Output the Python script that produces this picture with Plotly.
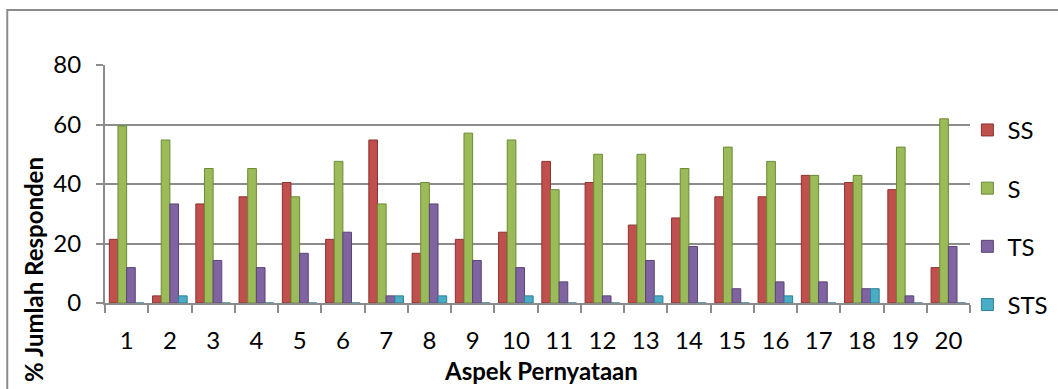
import plotly.graph_objects as go

# Survey responses per statement aspect (% of respondents)
aspek = [str(i) for i in range(1, 21)]
ss = [21.4, 2.4, 33.3, 35.7, 40.5, 21.4, 54.8, 16.7, 21.4, 23.8,
      47.6, 40.5, 26.2, 28.6, 35.7, 35.7, 42.9, 40.5, 38.1, 11.9]
s = [59.5, 54.8, 45.2, 45.2, 35.7, 47.6, 33.3, 40.5, 57.1, 54.8,
     38.1, 50.0, 50.0, 45.2, 52.4, 47.6, 42.9, 42.9, 52.4, 61.9]
ts = [11.9, 33.3, 14.3, 11.9, 16.7, 23.8, 2.4, 33.3, 14.3, 11.9,
      7.1, 2.4, 14.3, 19.0, 4.8, 7.1, 7.1, 4.8, 2.4, 19.0]
sts = [0, 2.4, 0, 0, 0, 0, 2.4, 2.4, 0, 2.4,
       0, 0, 2.4, 0, 0, 2.4, 0, 4.8, 0, 0]
y_ticks = [0, 20, 40, 60, 80]

series = [
    ("SS", ss, "#C0504D", "#8E3330"),
    ("S", s, "#9BBB59", "#6B8A36"),
    ("TS", ts, "#8064A2", "#5A4478"),
    ("STS", sts, "#4BACC6", "#2E8198"),
]

FONT = "Lato, Open Sans, sans-serif"
GRID = "#8C8C8C"

fig = go.Figure()
for i, (name, vals, col, edge) in enumerate(series):
    fig.add_trace(go.Bar(
        x=aspek, y=vals, name=name,
        marker=dict(color=col, line=dict(color=edge, width=1)),
        legendgroup=name,
    ))

fig.update_layout(
    width=1058, height=389,
    margin=dict(l=105, r=88, t=65, b=86, autoexpand=False),
    paper_bgcolor="white", plot_bgcolor="white",
    barmode="group", bargap=0.2, bargroupgap=0.0,
    font=dict(family=FONT, size=24, color="#000000"),
    showlegend=True,
    legend=dict(
        x=0.997, y=0.82, xanchor="left", yanchor="top",
        font=dict(family=FONT, size=24, color="#000000"),
        tracegroupgap=24, itemwidth=30,
        bgcolor="rgba(0,0,0,0)",
    ),
    xaxis=dict(
        type="category", tickson="boundaries",
        ticks="outside", ticklen=8, tickcolor=GRID, tickwidth=2,
        showline=True, linecolor=GRID, linewidth=2,
        showgrid=False,
        tickfont=dict(family=FONT, size=24),
        ticklabelstandoff=15,
    ),
    yaxis=dict(
        range=[0, 80], tickvals=y_ticks,
        ticks="outside", ticklen=7, tickcolor=GRID, tickwidth=2,
        showline=True, linecolor=GRID, linewidth=2,
        showgrid=True, gridcolor=GRID, gridwidth=2,
        zeroline=False,
        tickfont=dict(family=FONT, size=24),
        ticklabelstandoff=10,
    ),
    annotations=[
        dict(text="<b>Aspek Pernyataan</b>", xref="paper", yref="paper",
             x=0.504, y=-0.285, xanchor="center", yanchor="middle",
             showarrow=False, font=dict(family=FONT, size=24)),
        dict(text="<b>% Jumlah Responden</b>", xref="paper", yref="paper",
             x=-0.083, y=0.14, xanchor="center", yanchor="middle",
             textangle=-90, showarrow=False, font=dict(family=FONT, size=24)),
    ],
    shapes=[
        dict(type="rect", xref="paper", yref="paper",
             x0=-0.113, x1=1.2, y0=-0.5, y1=1.231,
             line=dict(color="#8C8C8C", width=2), layer="below"),
    ],
)

fig.write_html("out.html")
